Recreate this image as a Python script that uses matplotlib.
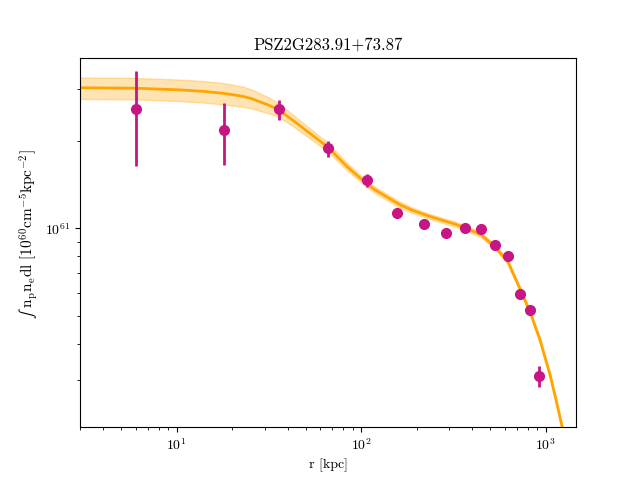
import numpy as np
import matplotlib
matplotlib.use("Agg")
import matplotlib.pyplot as plt

plt.rcParams['font.family'] = 'serif'
plt.rcParams['font.serif'] = ['cmr10']
plt.rcParams['mathtext.fontset'] = 'cm'
plt.rcParams['axes.formatter.use_mathtext'] = True

# data points
r = [6, 18, 36, 66, 108, 157, 220, 288, 365, 448, 533, 627, 726, 822, 920]
sb = [2.56e61, 2.17e61, 2.56e61, 1.88e61, 1.46e61, 1.127e61, 1.034e61, 0.964e61,
      1.0e61, 0.995e61, 0.875e61, 0.804e61, 0.595e61, 0.523e61, 0.31e61]
sb_err = [0.92e61, 0.52e61, 0.2e61, 0.12e61, 0.075e61, 0.045e61, 0.03e61, 0.025e61,
          0.025e61, 0.025e61, 0.025e61, 0.025e61, 0.022e61, 0.02e61, 0.025e61]

# model curve
r_mod = [3.0, 5.94, 10.4, 14, 17.8, 20, 22.9, 25.5, 28.3, 32, 35.8, 42.7, 52.8, 66.1,
         83.8, 107.5, 120, 138, 150, 162, 185, 219, 250, 288, 320, 370, 446, 531,
         625, 726, 823, 932, 1056, 1138, 1227, 1390]
sb_mod = [3.04e61, 3.03e61, 2.99e61, 2.955e61, 2.91e61, 2.88e61, 2.84e61, 2.79e61,
          2.72e61, 2.64e61, 2.55e61, 2.35e61, 2.12e61, 1.90e61, 1.63e61, 1.42e61,
          1.35e61, 1.28e61, 1.24e61, 1.205e61, 1.16e61, 1.115e61, 1.085e61, 1.055e61,
          1.035e61, 1.0e61, 0.950e61, 0.863e61, 0.766e61, 0.618e61, 0.515e61,
          0.413e61, 0.313e61, 0.257e61, 0.208e61, 0.148e61]
band_frac = [0.085, 0.085, 0.085, 0.085, 0.085, 0.083, 0.08, 0.075, 0.07, 0.062, 0.055,
             0.045, 0.04, 0.035, 0.03, 0.025, 0.025, 0.025, 0.025, 0.025, 0.022, 0.02,
             0.02, 0.02, 0.02, 0.02, 0.02, 0.018, 0.018, 0.018, 0.018, 0.018, 0.018,
             0.018, 0.018, 0.018]

r_mod = np.array(r_mod)
sb_mod = np.array(sb_mod)
band_frac = np.array(band_frac)

fig = plt.figure(figsize=(6.4, 4.8), dpi=100)
ax = plt.gca()
ax.fill_between(r_mod, sb_mod * (1 - band_frac), sb_mod * (1 + band_frac),
                color='orange', alpha=0.3)
ax.plot(r_mod, sb_mod, color='orange', lw=2)
ax.errorbar(r, sb, yerr=sb_err, fmt='o', color='mediumvioletred', ms=7, elinewidth=2)

ax.set_xscale('log')
ax.set_yscale('log')
ax.set_xlim(3, 1460)
ax.set_ylim(2.07e60, 3.86e61)
ax.set_xlabel('r [kpc]')
ax.set_ylabel('$\u222b\\ \\mathrm{n_p n_e dl}\\ [10^{60}\\mathrm{cm^{-5}kpc^{-2}}]$',
              fontsize=11)
ax.yaxis.set_label_coords(-0.078, 0.522)
ax.set_title('PSZ2G283.91+73.87')

plt.savefig('out.png', dpi=100)
